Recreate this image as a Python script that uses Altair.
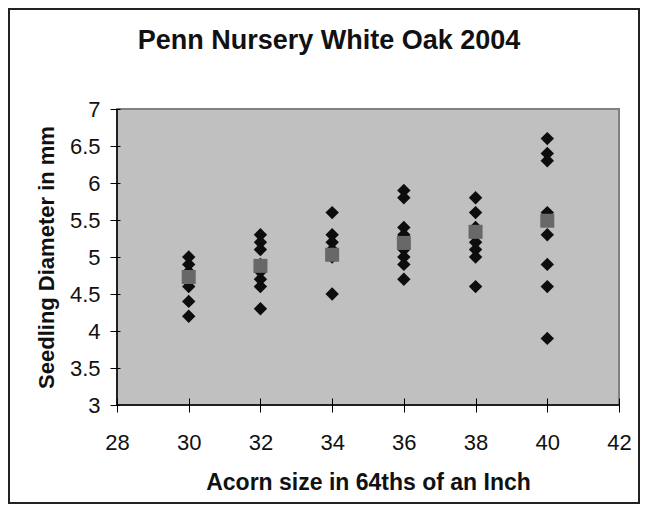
import altair as alt
import pandas as pd

# Acorn size groups (64ths of an inch) and seedling diameters (mm)
sizes = [30, 32, 34, 36, 38, 40]
diam_30 = [5.0, 4.9, 4.8, 4.7, 4.6, 4.4, 4.2]
diam_32 = [5.3, 5.2, 5.1, 4.9, 4.8, 4.7, 4.6, 4.3]
diam_34 = [5.6, 5.3, 5.2, 5.1, 5.0, 4.5]
diam_36 = [5.9, 5.8, 5.4, 5.3, 5.2, 5.1, 5.0, 4.9, 4.7]
diam_38 = [5.8, 5.6, 5.4, 5.3, 5.2, 5.1, 5.0, 4.6]
diam_40 = [6.6, 6.4, 6.3, 5.6, 5.5, 5.3, 4.9, 4.6, 3.9]
means = [4.73, 4.88, 5.03, 5.19, 5.34, 5.49]

x_ticks = [28, 30, 32, 34, 36, 38, 40, 42]
y_ticks = [3, 3.5, 4, 4.5, 5, 5.5, 6, 6.5, 7]

groups = [diam_30, diam_32, diam_34, diam_36, diam_38, diam_40]
rows = []
for s, vals in zip(sizes, groups):
    for v in vals:
        rows.append({"size": s, "diam": v})
pts = pd.DataFrame(rows)
mean_df = pd.DataFrame({"size": sizes, "diam": means})
one = pd.DataFrame({"k": [0]})

FONT = "Liberation Sans"
W, H = 502, 296

xscale = alt.Scale(domain=[28, 42], nice=False, zero=False)
yscale = alt.Scale(domain=[3, 7], nice=False, zero=False)

xaxis = alt.Axis(
    values=x_ticks, format="d", title="Acorn size in 64ths of an Inch",
    offset=-7, tickSize=14, domain=False, grid=False, tickColor="#000",
    labelPadding=20, labelFontSize=22, labelFont=FONT, labelColor="#111",
    labelFlush=False, labelOverlap=False,
    titleFont=FONT, titleFontSize=23, titleFontWeight="bold", titleColor="#111",
    titlePadding=18,
)
yaxis = alt.Axis(
    values=y_ticks, format="~g", title="Seedling Diameter in mm",
    offset=-3, tickSize=10, domain=False, grid=False, tickColor="#000",
    labelPadding=10, labelFontSize=22, labelFont=FONT, labelColor="#111",
    labelFlush=False, labelOverlap=False,
    titleFont=FONT, titleFontSize=22, titleFontWeight="bold", titleColor="#111",
    titlePadding=11,
)

diamonds = alt.Chart(pts).mark_point(
    shape="diamond", filled=True, size=180, color="#0d0d0d", opacity=1
).encode(
    x=alt.X("size:Q", scale=xscale, axis=xaxis),
    y=alt.Y("diam:Q", scale=yscale, axis=yaxis),
)

squares = alt.Chart(mean_df).mark_point(
    shape="square", filled=True, size=196, color="#686868", opacity=1
).encode(
    x=alt.X("size:Q", scale=xscale, axis=xaxis),
    y=alt.Y("diam:Q", scale=yscale, axis=yaxis),
)

bottom_line = alt.Chart(one).mark_rule(color="#000", strokeWidth=1.5).encode(
    x=alt.datum(28, scale=xscale, axis=xaxis), x2=alt.datum(42),
    y=alt.datum(3, scale=yscale, axis=yaxis),
)
left_line = alt.Chart(one).mark_rule(color="#000", strokeWidth=1.5).encode(
    x=alt.datum(28, scale=xscale, axis=xaxis),
    y=alt.datum(3, scale=yscale, axis=yaxis), y2=alt.datum(7),
)

frame = alt.Chart(one).mark_rect(filled=False, stroke="#222", strokeWidth=2).encode(
    x=alt.value(-108), x2=alt.value(522), y=alt.value(-100), y2=alt.value(394)
)

chart = alt.layer(diamonds, squares, bottom_line, left_line, frame).properties(
    width=W, height=H,
    title=alt.Title(
        "Penn Nursery White Oak 2004", font=FONT, fontSize=27,
        fontWeight="bold", color="#111", anchor="middle", dx=-39, offset=-47,
    ),
    padding={"left": 109, "top": 101, "right": 22, "bottom": 99},
    autosize=alt.AutoSizeParams(type="none"),
    background="white",
).configure_view(
    fill="#c0c0c0", stroke="#808080", strokeWidth=2
)

chart.save("out.html", embed_options={"renderer": "svg", "actions": False})
